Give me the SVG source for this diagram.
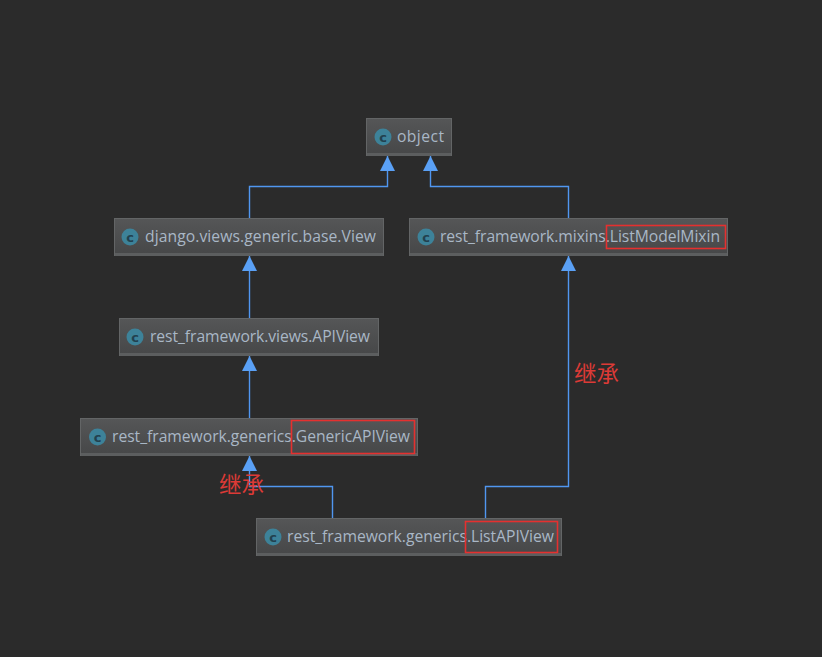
<svg xmlns="http://www.w3.org/2000/svg" width="822" height="657" viewBox="0 0 822 657">
<style>
.box{fill:url(#g);stroke:#636566;stroke-width:1}
.base{fill:#5c5e5f}
.ic{fill:#3d8299}
.c{font:bold 13px "DejaVu Sans",sans-serif;fill:#22414f;text-anchor:middle}
.t{font:15.7px "Open Sans","Noto Sans",sans-serif;fill:#a9b7c6}
.e{fill:none;stroke:#5096f0;stroke-width:1.4}
.r{fill:none;stroke:#e5302f;stroke-width:1.6}
.z{font:22.500px "Noto Sans CJK SC","Noto Sans CJK JP",serif;fill:#dc3a36}
</style>
<defs>
<linearGradient id="g" x1="0" y1="0" x2="0" y2="1"><stop offset="0" stop-color="#555657"/><stop offset="1" stop-color="#464748"/></linearGradient>
<marker id="a" markerUnits="userSpaceOnUse" markerWidth="16" markerHeight="16" refX="15" refY="8" orient="auto"><path d="M0 0.500L15 8L0 15.500Z" fill="#5aa0f5"/></marker>
</defs>
<rect width="822" height="657" fill="#2b2b2b"/>
<g id="connectors">
<path class="e" d="M249.500 218V186.500H387.500V156" marker-end="url(#a)"/>
<path class="e" d="M568.500 218V186.500H430.500V156" marker-end="url(#a)"/>
<path class="e" d="M249.500 318V256" marker-end="url(#a)"/>
<path class="e" d="M249.500 418V356" marker-end="url(#a)"/>
<path class="e" d="M332.500 518V486.500H249.500V456" marker-end="url(#a)"/>
<path class="e" d="M485.500 518V486.500H568.500V256" marker-end="url(#a)"/>
</g>
<g id="n-object"><rect class="box" x="366.500" y="118.500" width="85" height="37"/><rect class="base" x="367" y="153" width="84" height="3"/><circle class="ic" cx="383" cy="137" r="8.500"/><text class="c" x="383" y="141.500">c</text><text class="t" x="397" y="142" textLength="47">object</text></g>
<g id="n-view"><rect class="box" x="114.500" y="218.500" width="269" height="37"/><rect class="base" x="115" y="253" width="268" height="3"/><circle class="ic" cx="130" cy="237" r="8.500"/><text class="c" x="130" y="241.500">c</text><text class="t" x="145" y="242" textLength="231">django.views.generic.base.View</text></g>
<g id="n-mixin"><rect class="box" x="409.500" y="218.500" width="318" height="37"/><rect class="base" x="410" y="253" width="317" height="3"/><circle class="ic" cx="426" cy="237" r="8.500"/><text class="c" x="426" y="241.500">c</text><text class="t" x="440" y="242" textLength="280">rest_framework.mixins.ListModelMixin</text><rect class="r" x="606.500" y="225.500" width="119" height="23"/></g>
<g id="n-apiview"><rect class="box" x="119.500" y="318.500" width="259" height="37"/><rect class="base" x="120" y="353" width="258" height="3"/><circle class="ic" cx="135" cy="337" r="8.500"/><text class="c" x="135" y="341.500">c</text><text class="t" x="150" y="342" textLength="220">rest_framework.views.APIView</text></g>
<g id="n-generic"><rect class="box" x="80.500" y="418.500" width="337" height="37"/><rect class="base" x="81" y="453" width="336" height="3"/><circle class="ic" cx="97.500" cy="437" r="8.500"/><text class="c" x="97.500" y="441.500">c</text><text class="t" x="112" y="442" textLength="298">rest_framework.generics.GenericAPIView</text><rect class="r" x="291.500" y="420.500" width="123" height="33"/></g>
<g id="n-list"><rect class="box" x="256.500" y="518.500" width="305" height="37"/><rect class="base" x="257" y="553" width="304" height="3"/><circle class="ic" cx="273" cy="537" r="8.500"/><text class="c" x="273" y="541.500">c</text><text class="t" x="287" y="542" textLength="267">rest_framework.generics.ListAPIView</text><rect class="r" x="465.500" y="521.500" width="92" height="31"/></g>
<text class="z" x="219" y="493">继承</text>
<text class="z" x="574" y="382">继承</text>
</svg>
